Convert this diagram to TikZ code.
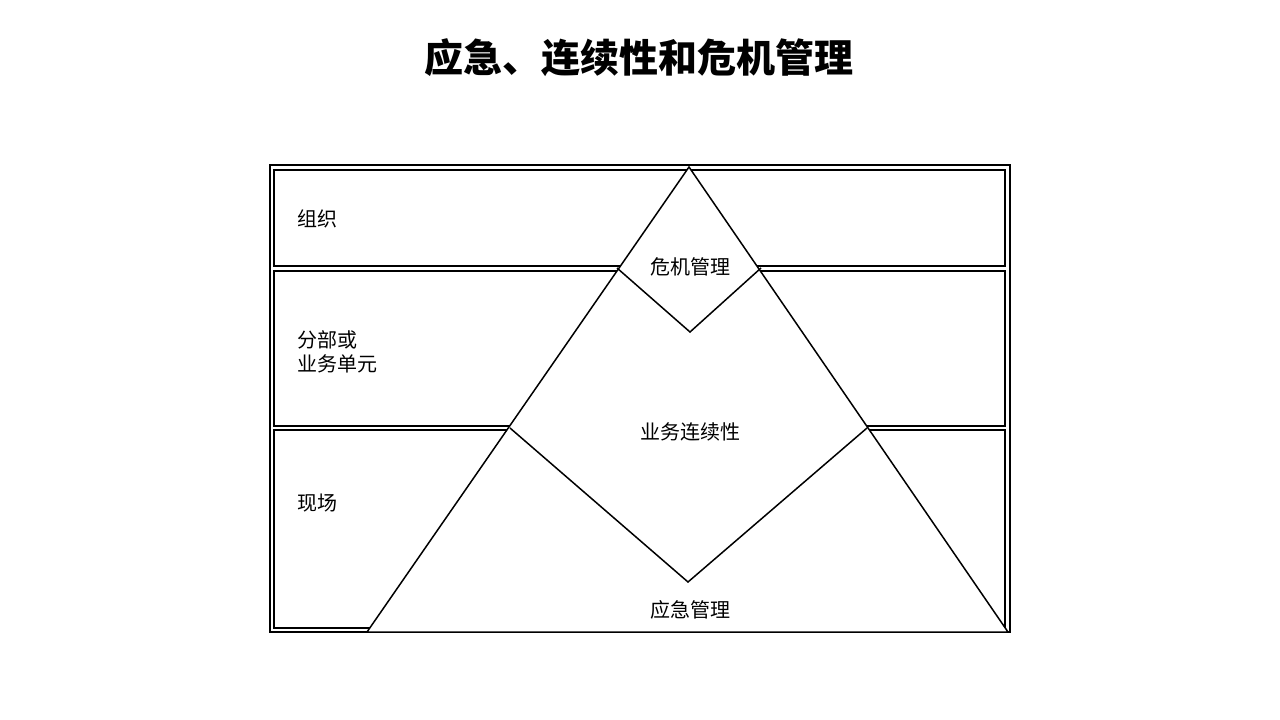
\documentclass[tikz,border=0pt]{standalone}
\usepackage{fontspec}
\setmainfont{Noto Sans CJK SC}
\begin{document}
\begin{tikzpicture}[x=1pt,y=-1pt,
  ln/.style={draw=black,line width=1.5pt},
  lab/.style={font=\fontsize{20}{24}\selectfont,align=left}]
\useasboundingbox (0,0) rectangle (1280,720);
\node[font=\fontsize{39}{44}\selectfont\bfseries] (title) at (639,58) {应急、连续性和危机管理};
\draw[ln] (270,165) rectangle (1010,632);
\draw[ln] (274,170) rectangle (1005,266);
\draw[ln] (274,271) rectangle (1005,426);
\draw[ln] (274,430) rectangle (1005,628);
\coordinate (A) at (689,167);
\coordinate (L) at (367,632);
\coordinate (R) at (1008,632);
\fill[white] (A) -- (L) -- (R) -- cycle;
\draw[ln] (A) -- (L) -- (R) -- cycle;
\coordinate (d1) at (617,268); \coordinate (d2) at (690,332); \coordinate (d3) at (761,268);
\draw[ln] (d1) -- (d2) -- (d3);
\coordinate (e1) at (510,428); \coordinate (e2) at (688,582); \coordinate (e3) at (867,428);
\draw[ln] (e1) -- (e2) -- (e3);
\node[lab,anchor=west] (t1) at (294,219) {组织};
\node[lab,anchor=west] (t2) at (294,352) {分部或\\业务单元};
\node[lab,anchor=west] (t3) at (294,503) {现场};
\node[lab] (c1) at (690,267) {危机管理};
\node[lab] (c2) at (690,432) {业务连续性};
\node[lab] (c3) at (690,610) {应急管理};
\end{tikzpicture}
\end{document}
